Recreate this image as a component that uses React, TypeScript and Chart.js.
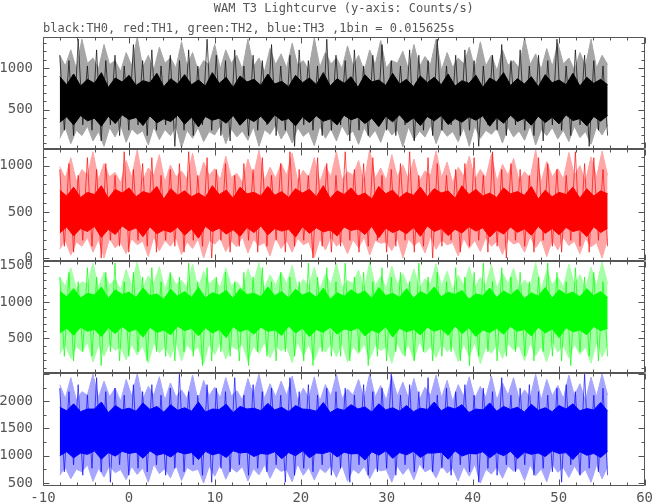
import React, { useEffect, useRef } from "react";
import { Chart, registerables } from "chart.js";

Chart.register(...registerables);

const chartTitle = "WAM T3 Lightcurve (y-axis: Counts/s)";
const chartSubtitle = "black:TH0, red:TH1, green:TH2, blue:TH3 ,1bin = 0.015625s";

const xTicks = [-10, 0, 10, 20, 30, 40, 50, 60];
const timeStart = -8.05;
const timeEnd = 55.7;

// ---------- TH0 (black) ----------
const th0Ticks = [500, 1000];
const th0Range = [30, 1370];
const th0OuterHigh = [
  1152, 1024, 1216, 988, 1344, 1056, 1120, 992, 1280, 1040,
  1088, 960, 1184, 1024, 1370, 1008, 1152, 976, 1248, 1056,
  1120, 1000, 1312, 1024, 1184, 968, 1088, 1040, 1280, 992,
  1216, 1056, 1152, 984, 1344, 1016, 1120, 960, 1232, 1040,
  1168, 1000, 1296, 1032, 1088, 976, 1360, 1008, 1184, 1048,
  1120, 992, 1264, 1024, 1152, 960, 1216, 1040, 1328, 1000,
  1088, 1056, 1200, 984, 1280, 1016, 1136, 1040, 1344, 976,
  1184, 1008, 1120, 1048, 1248, 992, 1312, 1024, 1152, 968,
  1216, 1032, 1088, 1000, 1360, 1040, 1168, 984, 1232, 1016,
  1296, 1048, 1120, 976, 1184, 1024, 1344, 1000, 1152, 1040,
];
const th0OuterLow = [
  160, 288, 96, 256, 192, 304, 128, 240, 64, 288,
  176, 320, 112, 272, 208, 248, 80, 296, 144, 264,
  192, 304, 48, 256, 160, 288, 120, 240, 200, 312,
  96, 272, 176, 248, 136, 296, 64, 264, 208, 320,
  152, 256, 104, 288, 184, 240, 72, 304, 160, 272,
  128, 312, 196, 248, 88, 288, 168, 256, 112, 300,
  200, 264, 56, 296, 144, 248, 176, 312, 96, 272,
  184, 240, 120, 288, 64, 304, 160, 256, 208, 280,
  104, 296, 176, 248, 136, 312, 80, 264, 192, 288,
  152, 256, 120, 304, 168, 240, 88, 296, 200, 320,
];
const th0CoreHigh = [
  896, 800, 928, 784, 864, 816, 944, 768, 880, 832,
  912, 792, 848, 824, 936, 776, 872, 808, 920, 800,
  856, 784, 944, 816, 888, 768, 904, 832, 864, 792,
  928, 808, 840, 776, 912, 824, 880, 800, 944, 784,
  872, 816, 896, 768, 920, 832, 856, 792, 936, 808,
  864, 776, 904, 824, 888, 800, 928, 784, 848, 816,
  912, 768, 880, 832, 944, 792, 872, 808, 896, 776,
  920, 824, 856, 800, 936, 784, 888, 816, 864, 800,
];
const th0CoreLow = [
  352, 416, 320, 432, 368, 400, 304, 424, 336, 440,
  384, 408, 312, 428, 344, 392, 360, 436, 328, 412,
  296, 420, 376, 400, 340, 432, 316, 404, 360, 424,
  332, 440, 372, 396, 308, 416, 348, 428, 364, 392,
  320, 436, 380, 412, 336, 400, 300, 424, 356, 440,
  344, 404, 312, 420, 368, 432, 324, 396, 352, 416,
  376, 428, 304, 408, 340, 436, 360, 400, 316, 424,
  348, 412, 332, 440, 372, 396, 308, 420, 364, 432,
];
const th0Spikes = [
  1152, 256, 1088, 192, 1344, 320, 1024, 256, 1216, 128, 1088, 320, 1152, 192, 1024, 256, 1280, 320, 1088, 192,
  1216, 256, 1024, 320, 1152, 64, 1088, 256, 1216, 192, 1024, 320, 1344, 256, 1152, 192, 1088, 128, 1216, 320,
  1024, 192, 1152, 256, 1088, 320, 1280, 192, 1024, 256, 1152, 64, 1216, 320, 1088, 256, 1024, 192, 1344, 256,
  1152, 320, 1088, 128, 1216, 256, 1024, 192, 1152, 320, 1280, 256, 1088, 192, 1024, 320, 1216, 128, 1152, 256,
  1088, 192, 1344, 256, 1024, 320, 1152, 192, 1216, 256, 1088, 64, 1024, 320, 1152, 256, 1280, 192, 1088, 320,
  1216, 256, 1024, 192, 1152, 128, 1088, 320, 1344, 256, 1024, 192, 1216, 320, 1152, 64, 1088, 256, 1024, 192,
];

// ---------- TH1 (red) ----------
const th1Ticks = [0, 500, 1000];
const th1Range = [-35, 1180];
const th1OuterHigh = [
  992, 864, 1088, 832, 960, 896, 1152, 848, 1024, 880,
  928, 816, 1056, 872, 1176, 840, 976, 896, 1120, 824,
  1008, 880, 944, 856, 1136, 832, 1040, 896, 968, 848,
  1104, 872, 920, 816, 1072, 888, 1168, 840, 984, 864,
  1024, 896, 1136, 832, 952, 872, 1088, 816, 1000, 880,
  1152, 848, 936, 896, 1056, 824, 1176, 864, 976, 840,
  1120, 880, 1008, 856, 1072, 832, 944, 896, 1160, 872,
  1040, 816, 984, 888, 1104, 848, 960, 872, 1128, 832,
  1016, 896, 1080, 840, 936, 864, 1176, 824, 1048, 880,
  968, 856, 1144, 896, 1000, 832, 1096, 872, 1160, 896,
];
const th1OuterLow = [
  96, 192, 32, 176, 128, 224, 64, 200, 0, 216,
  112, 168, 48, 208, 144, 184, 16, 232, 80, 192,
  128, 224, 40, 176, 104, 208, 0, 192, 152, 216,
  72, 184, 120, 232, 56, 200, 136, 168, 24, 224,
  104, 192, 64, 216, 144, 176, 8, 208, 88, 232,
  128, 184, 48, 200, 112, 224, 32, 192, 160, 176,
  80, 216, 0, 208, 136, 184, 56, 232, 96, 200,
  144, 168, 24, 216, 104, 192, 72, 224, 128, 184,
  40, 208, 152, 176, 64, 232, 112, 200, 16, 192,
  88, 224, 136, 184, 48, 216, 120, 168, 0, 208,
];
const th1CoreHigh = [
  736, 672, 768, 656, 712, 688, 784, 648, 744, 704,
  760, 664, 720, 696, 776, 640, 752, 680, 728, 664,
  704, 656, 784, 688, 736, 648, 768, 696, 712, 672,
  776, 680, 720, 656, 752, 704, 744, 664, 784, 648,
  728, 688, 760, 672, 704, 640, 776, 696, 736, 656,
  712, 680, 768, 664, 752, 704, 728, 648, 784, 688,
  744, 672, 704, 656, 760, 696, 720, 680, 776, 640,
  736, 664, 712, 688, 768, 648, 752, 672, 728, 696,
];
const th1CoreLow = [
  272, 336, 240, 320, 288, 344, 224, 312, 256, 348,
  296, 328, 232, 340, 264, 304, 280, 336, 248, 316,
  216, 344, 288, 324, 260, 308, 236, 332, 276, 348,
  252, 320, 292, 312, 228, 340, 268, 328, 284, 304,
  240, 336, 300, 316, 256, 344, 220, 324, 276, 308,
  264, 332, 236, 348, 288, 320, 244, 312, 272, 340,
  292, 328, 228, 304, 260, 336, 280, 316, 248, 344,
  268, 320, 252, 332, 288, 308, 232, 340, 276, 324,
];
const th1Spikes = [
  960, 128, 1024, 64, 896, 192, 1088, 128, 960, 0, 1024, 192, 896, 128, 1152, 64, 960, 192, 1024, 128,
  1088, 64, 896, 192, 960, 128, 1024, 64, 1152, 192, 896, 128, 1088, 0, 960, 192, 1024, 64, 896, 128,
  1024, 192, 960, 64, 1088, 128, 896, 192, 1024, 64, 1152, 128, 960, 192, 896, 0, 1088, 128, 1024, 64,
  896, 128, 1152, 192, 960, 64, 1024, 128, 1088, 192, 896, 64, 960, 128, 1024, 192, 1152, 64, 896, 128,
  1088, 0, 1024, 128, 896, 192, 960, 64, 1024, 128, 1088, 192, 896, 64, 1152, 128, 960, 0, 1024, 192,
  960, 128, 896, 64, 1088, 192, 1024, 128, 960, 64, 896, 192, 1152, 128, 1024, 64, 1088, 192, 960, 128,
];

// ---------- TH2 (green) ----------
const th2Ticks = [500, 1000, 1500];
const th2Range = [20, 1560];
const th2OuterHigh = [
  1344, 1216, 1472, 1184, 1280, 1248, 1536, 1200, 1408, 1232,
  1312, 1168, 1448, 1224, 1556, 1192, 1360, 1256, 1488, 1176,
  1392, 1240, 1296, 1208, 1520, 1184, 1424, 1248, 1328, 1200,
  1472, 1224, 1280, 1168, 1456, 1256, 1544, 1192, 1376, 1232,
  1408, 1248, 1504, 1184, 1312, 1216, 1480, 1168, 1384, 1240,
  1536, 1200, 1296, 1256, 1440, 1176, 1552, 1224, 1352, 1192,
  1496, 1240, 1392, 1208, 1456, 1184, 1320, 1248, 1528, 1216,
  1424, 1168, 1368, 1232, 1488, 1200, 1336, 1224, 1512, 1184,
  1400, 1256, 1464, 1192, 1304, 1216, 1544, 1176, 1432, 1240,
  1344, 1208, 1520, 1248, 1376, 1184, 1480, 1224, 1552, 1248,
];
const th2OuterLow = [
  288, 416, 224, 392, 320, 448, 176, 408, 256, 432,
  336, 384, 208, 424, 272, 400, 160, 440, 304, 392,
  240, 456, 192, 416, 320, 384, 152, 432, 280, 448,
  216, 400, 344, 424, 184, 392, 296, 440, 232, 408,
  328, 384, 168, 456, 264, 416, 200, 400, 312, 432,
  248, 448, 176, 392, 288, 424, 216, 408, 336, 384,
  160, 440, 272, 416, 208, 456, 304, 392, 240, 432,
  320, 400, 184, 424, 256, 448, 152, 384, 296, 416,
  224, 432, 344, 400, 192, 440, 264, 392, 176, 456,
  312, 408, 232, 424, 280, 384, 160, 448, 248, 416,
];
const th2CoreHigh = [
  1152, 1072, 1184, 1056, 1120, 1096, 1208, 1048, 1168, 1104,
  1136, 1064, 1192, 1088, 1112, 1040, 1176, 1080, 1144, 1064,
  1200, 1056, 1128, 1096, 1160, 1048, 1184, 1104, 1120, 1072,
  1208, 1088, 1144, 1056, 1176, 1096, 1136, 1064, 1192, 1040,
  1128, 1080, 1168, 1104, 1152, 1048, 1200, 1088, 1120, 1064,
  1184, 1056, 1144, 1096, 1208, 1072, 1136, 1104, 1160, 1040,
  1112, 1088, 1192, 1064, 1152, 1096, 1176, 1048, 1128, 1080,
  1200, 1056, 1168, 1104, 1136, 1072, 1184, 1088, 1144, 1064,
];
const th2CoreLow = [
  576, 640, 544, 656, 600, 624, 528, 648, 568, 664,
  592, 632, 520, 656, 584, 616, 552, 672, 608, 640,
  536, 648, 576, 624, 512, 664, 592, 632, 560, 656,
  600, 616, 544, 672, 576, 640, 528, 624, 584, 656,
  560, 632, 608, 648, 536, 616, 576, 664, 520, 640,
  592, 624, 552, 656, 600, 632, 544, 672, 568, 648,
  528, 616, 584, 640, 560, 664, 600, 624, 536, 656,
  576, 632, 512, 648, 592, 616, 552, 664, 608, 640,
];
const th2Spikes = [
  1344, 256, 1408, 192, 1280, 320, 1472, 256, 1344, 128, 1408, 320, 1536, 192, 1280, 256, 1408, 320, 1344, 192,
  1472, 320, 1280, 256, 1408, 192, 1344, 320, 1536, 256, 1280, 128, 1472, 192, 1344, 320, 1408, 256, 1280, 192,
  1408, 128, 1344, 320, 1472, 256, 1280, 192, 1408, 320, 1344, 256, 1280, 192, 1536, 128, 1344, 320, 1472, 256,
  1280, 256, 1536, 192, 1344, 320, 1408, 128, 1280, 256, 1472, 192, 1344, 320, 1408, 256, 1280, 192, 1536, 320,
  1344, 192, 1408, 256, 1280, 320, 1472, 192, 1344, 128, 1408, 256, 1536, 320, 1280, 192, 1472, 256, 1344, 320,
  1408, 256, 1280, 192, 1344, 320, 1536, 256, 1408, 192, 1280, 128, 1472, 320, 1344, 256, 1408, 192, 1280, 256,
];

// ---------- TH3 (blue) ----------
const th3Ticks = [500, 1000, 1500, 2000];
const th3Range = [450, 2510];
const th3OuterHigh = [
  2304, 2048, 2432, 2016, 2176, 2112, 2496, 2064, 2368, 2080,
  2240, 2000, 2400, 2096, 2506, 2032, 2272, 2112, 2448, 2016,
  2336, 2080, 2208, 2048, 2480, 2000, 2384, 2104, 2256, 2064,
  2432, 2096, 2192, 2024, 2416, 2112, 2496, 2048, 2320, 2080,
  2368, 2104, 2464, 2016, 2240, 2064, 2448, 2000, 2304, 2096,
  2496, 2048, 2224, 2112, 2400, 2032, 2506, 2080, 2288, 2016,
  2456, 2096, 2352, 2056, 2416, 2024, 2256, 2104, 2480, 2064,
  2384, 2000, 2304, 2088, 2448, 2048, 2272, 2072, 2464, 2016,
  2336, 2112, 2432, 2040, 2208, 2064, 2496, 2024, 2400, 2096,
  2288, 2048, 2480, 2104, 2320, 2008, 2440, 2080, 2504, 2112,
];
const th3OuterLow = [
  640, 784, 576, 752, 704, 832, 528, 768, 608, 816,
  688, 744, 560, 800, 656, 776, 512, 848, 672, 760,
  592, 824, 544, 784, 720, 752, 496, 808, 624, 840,
  568, 776, 696, 800, 536, 760, 648, 832, 584, 792,
  712, 744, 520, 848, 640, 784, 552, 768, 688, 816,
  600, 832, 528, 752, 672, 800, 576, 776, 720, 744,
  512, 808, 656, 784, 560, 848, 704, 760, 592, 824,
  680, 768, 536, 800, 624, 840, 496, 752, 664, 792,
  584, 816, 712, 776, 544, 832, 632, 760, 520, 848,
  696, 784, 600, 808, 648, 744, 512, 832, 576, 800,
];
const th3CoreHigh = [
  1888, 1824, 1952, 1808, 1856, 1856, 1984, 1792, 1920, 1840,
  1872, 1816, 1968, 1848, 1904, 1800, 1936, 1832, 1880, 1816,
  1984, 1800, 1856, 1848, 1944, 1792, 1904, 1856, 1872, 1824,
  1960, 1840, 1888, 1808, 1920, 1856, 1848, 1816, 1976, 1792,
  1864, 1832, 1936, 1856, 1896, 1800, 1952, 1840, 1880, 1816,
  1920, 1808, 1872, 1848, 1984, 1824, 1896, 1856, 1936, 1792,
  1856, 1840, 1968, 1816, 1904, 1848, 1888, 1800, 1944, 1832,
  1880, 1808, 1920, 1856, 1952, 1824, 1864, 1840, 1976, 1816,
];
const th3CoreLow = [
  1000, 1072, 960, 1048, 1024, 1088, 936, 1056, 992, 1080,
  1040, 1064, 952, 1088, 1008, 1040, 976, 1072, 1032, 1056,
  928, 1080, 1016, 1048, 968, 1088, 1048, 1064, 984, 1040,
  1024, 1072, 944, 1056, 1000, 1088, 960, 1048, 1040, 1080,
  976, 1064, 1032, 1040, 920, 1072, 1008, 1088, 952, 1056,
  1016, 1080, 968, 1048, 1048, 1064, 936, 1088, 992, 1040,
  1032, 1072, 960, 1056, 1000, 1080, 944, 1064, 1024, 1048,
  984, 1088, 1040, 1056, 928, 1072, 1008, 1040, 968, 1080,
];
const th3Spikes = [
  2240, 704, 2176, 832, 2304, 640, 2112, 768, 2432, 704, 2176, 512, 2240, 832, 2112, 640, 2304, 768, 2176, 704,
  2304, 832, 2112, 640, 2240, 768, 2496, 704, 2176, 832, 2112, 640, 2304, 512, 2240, 768, 2176, 704, 2432, 832,
  2112, 640, 2304, 768, 2176, 704, 2240, 832, 2112, 512, 2432, 640, 2176, 768, 2304, 704, 2112, 832, 2240, 640,
  2176, 768, 2240, 512, 2112, 832, 2304, 640, 2176, 704, 2240, 768, 2496, 640, 2112, 832, 2304, 704, 2176, 768,
  2432, 704, 2112, 768, 2240, 640, 2176, 832, 2304, 704, 2112, 512, 2240, 768, 2176, 640, 2432, 832, 2112, 704,
  2240, 832, 2304, 640, 2176, 768, 2112, 704, 2240, 512, 2304, 832, 2176, 640, 2496, 768, 2112, 704, 2240, 640,
];

const panels = [
  { id: "y0", outerHigh: th0OuterHigh, outerLow: th0OuterLow, coreHigh: th0CoreHigh, coreLow: th0CoreLow, spikes: th0Spikes, ticks: th0Ticks, range: th0Range, color: "#000000", light: "#a6a6a6", spike: "rgba(0,0,0,0.75)", minor: 100, weight: 4 },
  { id: "y1", outerHigh: th1OuterHigh, outerLow: th1OuterLow, coreHigh: th1CoreHigh, coreLow: th1CoreLow, spikes: th1Spikes, ticks: th1Ticks, range: th1Range, color: "#ff0000", light: "#ffa6a6", spike: "rgba(255,0,0,0.75)", minor: 100, weight: 3 },
  { id: "y2", outerHigh: th2OuterHigh, outerLow: th2OuterLow, coreHigh: th2CoreHigh, coreLow: th2CoreLow, spikes: th2Spikes, ticks: th2Ticks, range: th2Range, color: "#00ff00", light: "#a6ffa6", spike: "rgba(0,255,0,0.75)", minor: 100, weight: 2 },
  { id: "y3", outerHigh: th3OuterHigh, outerLow: th3OuterLow, coreHigh: th3CoreHigh, coreLow: th3CoreLow, spikes: th3Spikes, ticks: th3Ticks, range: th3Range, color: "#0000ff", light: "#a6a6ff", spike: "rgba(0,0,255,0.75)", minor: 250, weight: 1 },
];

const toPoints = (values: number[]) =>
  values.map((v, i) => ({ x: timeStart + (i * (timeEnd - timeStart)) / (values.length - 1), y: v }));

const FRAME = "#555555";
const FONT = '"DejaVu Sans Mono", monospace';

const framePlugin = {
  id: "pgplotFrame",
  afterDraw(chart: any) {
    const ctx = chart.ctx as CanvasRenderingContext2D;
    const area = chart.chartArea;
    const xs = chart.scales.x;
    ctx.save();
    ctx.strokeStyle = FRAME;
    ctx.lineWidth = 1;
    const L = Math.round(area.left) + 0.5;
    const R = Math.round(area.right) - 0.5;
    panels.forEach((p) => {
      const s = chart.scales[p.id];
      const T = Math.round(s.top) + 0.5;
      const B = Math.round(s.bottom) - 0.5;
      ctx.beginPath();
      ctx.rect(L, T, R - L, B - T);
      ctx.stroke();
      ctx.beginPath();
      for (let v = -10; v <= 60; v += 2) {
        const px = Math.round(xs.getPixelForValue(v)) + 0.5;
        const len = v % 10 === 0 ? 6 : 3;
        ctx.moveTo(px, T);
        ctx.lineTo(px, T + len);
        ctx.moveTo(px, B);
        ctx.lineTo(px, B - len);
      }
      const start = Math.ceil(p.range[0] / p.minor) * p.minor;
      for (let v = start; v <= p.range[1]; v += p.minor) {
        const py = Math.round(s.getPixelForValue(v)) + 0.5;
        const len = v % 500 === 0 ? 6 : 3;
        ctx.moveTo(L, py);
        ctx.lineTo(L + len, py);
        ctx.moveTo(R, py);
        ctx.lineTo(R - len, py);
      }
      ctx.stroke();
    });
    ctx.fillStyle = FRAME;
    ctx.font = `12px ${FONT}`;
    ctx.textBaseline = "alphabetic";
    ctx.textAlign = "center";
    ctx.fillText(chartTitle, (area.left + area.right) / 2, 12);
    ctx.textAlign = "left";
    ctx.fillText(chartSubtitle, area.left, 31.5);
    ctx.restore();
  },
};

export default function App() {
  const ref = useRef<HTMLCanvasElement>(null);
  useEffect(() => {
    if (!ref.current) return;
    const datasets: any[] = [];
    const band = (high: number[], low: number[], yAxisID: string, color: string, order: number) => {
      datasets.push({
        data: toPoints(high),
        yAxisID,
        borderColor: color,
        backgroundColor: color,
        borderWidth: 1,
        pointRadius: 0,
        tension: 0,
        fill: "+1",
        order,
      });
      datasets.push({
        data: toPoints(low),
        yAxisID,
        borderColor: color,
        backgroundColor: color,
        borderWidth: 1,
        pointRadius: 0,
        tension: 0,
        fill: false,
        order,
      });
    };
    panels.forEach((p) => {
      band(p.outerHigh, p.outerLow, p.id, p.light, 3);
      band(p.coreHigh, p.coreLow, p.id, p.color, 2);
      datasets.push({
        data: toPoints(p.spikes),
        yAxisID: p.id,
        borderColor: p.spike,
        borderWidth: 0.9,
        borderJoinStyle: "bevel",
        pointRadius: 0,
        tension: 0,
        fill: false,
        order: 1,
      });
    });
    const scales: any = {
      x: {
        type: "linear",
        position: "bottom",
        min: -10,
        max: 60,
        grid: { display: false, drawTicks: false },
        border: { display: false },
        afterBuildTicks: (s: any) => {
          s.ticks = xTicks.map((v) => ({ value: v }));
        },
        afterFit: (s: any) => {
          s.height = 18;
        },
        ticks: {
          autoSkip: false,
          maxRotation: 0,
          padding: 4,
          color: FRAME,
          font: { family: FONT, size: 14 },
          callback: (v: any) => String(v),
        },
      },
    };
    panels.forEach((p) => {
      scales[p.id] = {
        type: "linear",
        position: "left",
        stack: "panels",
        stackWeight: 1,
        weight: p.weight,
        min: p.range[0],
        max: p.range[1],
        grid: { display: false, drawTicks: false },
        border: { display: false },
        afterBuildTicks: (s: any) => {
          s.ticks = p.ticks.map((v) => ({ value: v }));
        },
        afterFit: (s: any) => {
          s.width = 43;
        },
        ticks: {
          autoSkip: false,
          padding: 10,
          color: FRAME,
          font: { family: FONT, size: 14 },
          callback: (v: any) => String(v),
        },
      };
    });
    const chart = new Chart(ref.current, {
      type: "line",
      data: { datasets },
      options: {
        animation: false,
        responsive: false,
        parsing: false,
        normalized: true,
        layout: { padding: { top: 37, right: 9, left: 0, bottom: 0 } },
        plugins: { legend: { display: false }, tooltip: { enabled: false }, title: { display: false } },
        scales,
      } as any,
      plugins: [framePlugin],
    });
    return () => chart.destroy();
  }, []);
  return (
    <div style={{ position: "absolute", left: 0, top: 0, width: 657, height: 504, background: "#fff" }}>
      <canvas ref={ref} width={657} height={504} />
    </div>
  );
}
